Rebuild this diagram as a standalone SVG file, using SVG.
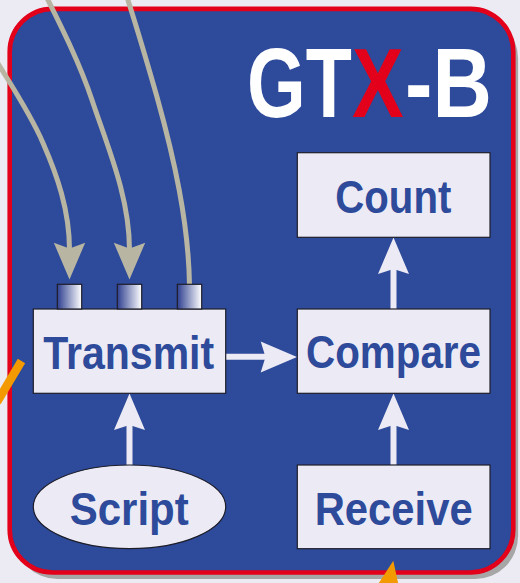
<svg xmlns="http://www.w3.org/2000/svg" width="520" height="583" viewBox="0 0 520 583">
  <defs>
    <linearGradient id="portGrad" x1="0" y1="0" x2="1" y2="0">
      <stop offset="0" stop-color="#2E3F8F"/>
      <stop offset="1" stop-color="#FFFFFF"/>
    </linearGradient>
    <style>
      .box { fill: #ECEBF5; stroke: #1E1E2A; stroke-width: 1.2; }
      .port { fill: url(#portGrad); stroke: #1E1E2A; stroke-width: 1.2; }
      .lbl { font-family: "Liberation Sans", Arial, sans-serif; font-weight: bold; font-size: 46px; fill: #2E4A9A; text-anchor: middle; }
      .ttl { font-family: "Liberation Sans", Arial, sans-serif; font-weight: bold; font-size: 98px; fill: #FFFFFF; }
      .wline { stroke: #ECEBF5; stroke-width: 6; fill: none; }
      .whead { fill: #ECEBF5; }
      .gline { stroke: #B8B6A2; stroke-width: 5; fill: none; }
      .ghead { fill: #B8B6A2; }
      .orange { fill: #F29A00; }
    </style>
  </defs>
  <rect x="0" y="0" width="520" height="583" fill="#ECEAF3"/>
  <!-- shadow and frame -->
  <rect x="14.5" y="15.5" width="503.6" height="563.6" rx="43" fill="#A6A6A6"/>
  <rect x="9.7" y="8.9" width="503.6" height="563.6" rx="43" fill="#2E4A9A" stroke="#E2001A" stroke-width="4.6"/>

  <!-- title -->
  <g id="title">
    <text class="ttl" transform="translate(247,117) scale(0.77,1)" x="0" y="0">GT</text>
    <text class="ttl" transform="translate(352,117) scale(0.79,1)" x="0" y="0" style="fill:#E2001A">X</text>
    <text class="ttl" transform="translate(405,117) scale(0.84,1)" x="0" y="0">-B</text>
  </g>

  <!-- connectors -->
  <g id="connectors">
    <path class="gline" d="M-15,42 C4,75 28,108 43,143 C57,175 69.5,210 69.5,250"/>
    <path class="ghead" d="M69.5,279.5 L53.8,242.7 L69.5,248.5 L85.2,242.7 Z"/>
    <path class="gline" d="M45,-6 C62,28 80,64 92,100 C108,148 129.5,197 129.5,250"/>
    <path class="ghead" d="M129.5,279.5 L113.8,242.7 L129.5,248.5 L145.2,242.7 Z"/>
    <path class="gline" d="M126,-6 C137,28 147,62 157,97 C174,158 188.5,222 189.5,285"/>

    <line class="wline" x1="226" y1="356.7" x2="266" y2="356.7"/>
    <path class="whead" d="M297,356.9 L260.7,341.5 L265.5,356.9 L260.7,372.5 Z"/>

    <line class="wline" x1="393.5" y1="465" x2="393.5" y2="425"/>
    <path class="whead" d="M393.5,393.5 L378,430 L393.5,425 L409,430 Z"/>

    <line class="wline" x1="393.5" y1="309" x2="393.5" y2="269"/>
    <path class="whead" d="M393.5,237.5 L378,274 L393.5,269 L409,274 Z"/>

    <line class="wline" x1="129.5" y1="465" x2="129.5" y2="425"/>
    <path class="whead" d="M129.5,393.5 L114,430 L129.5,425 L145,430 Z"/>
  </g>

  <!-- nodes -->
  <g id="count">
    <rect class="box" x="297.3" y="152.7" width="192.7" height="84.6"/>
    <text class="lbl" x="393.3" y="212.5" textLength="116" lengthAdjust="spacingAndGlyphs">Count</text>
  </g>
  <g id="compare">
    <rect class="box" x="297.3" y="309" width="192.7" height="84.3"/>
    <text class="lbl" x="393.5" y="368" textLength="175" lengthAdjust="spacingAndGlyphs">Compare</text>
  </g>
  <g id="receive">
    <rect class="box" x="297.3" y="465" width="192.7" height="83.7"/>
    <text class="lbl" x="393.7" y="525" textLength="158" lengthAdjust="spacingAndGlyphs">Receive</text>
  </g>
  <g id="transmit">
    <rect class="box" x="33.3" y="309" width="192.4" height="84.3"/>
    <text class="lbl" x="128.7" y="369" textLength="171" lengthAdjust="spacingAndGlyphs">Transmit</text>
  </g>
  <g id="ports">
    <rect class="port" x="57.3" y="284.3" width="24.4" height="24.7"/>
    <rect class="port" x="117.3" y="284.3" width="24.4" height="24.7"/>
    <rect class="port" x="177.3" y="284.3" width="24.4" height="24.7"/>
  </g>
  <g id="script">
    <ellipse class="box" cx="129.5" cy="506.8" rx="96.2" ry="41.8"/>
    <text class="lbl" x="129.2" y="525" textLength="119" lengthAdjust="spacingAndGlyphs">Script</text>
  </g>

  <!-- orange external marks -->
  <line x1="-3" y1="402" x2="21.5" y2="361" stroke="#F29A00" stroke-width="8.5"/>
  <path class="orange" d="M393.3,560.7 L377.5,585 L398.5,585 Z"/>
</svg>
